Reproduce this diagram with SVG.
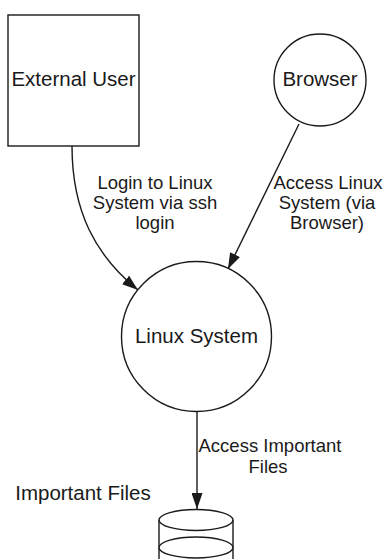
<svg xmlns="http://www.w3.org/2000/svg" width="384" height="559" viewBox="0 0 384 559">
<style>
.shape{fill:#fff;stroke:#1a1a1a;stroke-width:1.4}
.node{font-family:"Liberation Sans",Arial,sans-serif;font-size:20.5px;fill:#1a1a1a;text-anchor:middle}
.lbl{font-family:"Liberation Sans",Arial,sans-serif;font-size:18.5px;fill:#1a1a1a;text-anchor:middle}
.edge{fill:none;stroke:#1a1a1a;stroke-width:1.4}
</style>
<defs>
<marker id="arr" markerUnits="userSpaceOnUse" markerWidth="16" markerHeight="11" refX="16" refY="5.5" orient="auto">
<path d="M0,0 L16,5.5 L0,11 z" fill="#1a1a1a"/>
</marker>
</defs>
<rect width="384" height="559" fill="#fff"/>
<g id="connectors">
<path class="edge" d="M72,146 C72,212 96,256 138,290" marker-end="url(#arr)"/>
<path class="edge" d="M299,124 L228,269" marker-end="url(#arr)"/>
<path class="edge" d="M197,411 L197,509" marker-end="url(#arr)"/>
<text class="lbl" x="155" y="189">Login to Linux</text>
<text class="lbl" x="155" y="209">System via ssh</text>
<text class="lbl" x="155" y="229">login</text>
<text class="lbl" x="328" y="189">Access Linux</text>
<text class="lbl" x="327" y="209">System (via</text>
<text class="lbl" x="327" y="229">Browser)</text>
<text class="lbl" x="270" y="452">Access Important</text>
<text class="lbl" x="268" y="473">Files</text>
</g>
<g id="external-user">
<rect class="shape" x="8" y="15" width="131" height="131"/>
<text class="node" x="73.5" y="86">External User</text>
</g>
<g id="browser">
<circle class="shape" cx="320" cy="80" r="46"/>
<text class="node" x="320" y="86">Browser</text>
</g>
<g id="linux-system">
<circle class="shape" cx="196.5" cy="336.5" r="75"/>
<text class="node" x="196.5" y="343">Linux System</text>
</g>
<g id="important-files">
<path class="shape" d="M159,520 L159,565 L233,565 L233,520"/>
<ellipse class="shape" cx="196" cy="547.5" rx="37" ry="10.5"/>
<ellipse class="shape" cx="196" cy="520" rx="37" ry="10.5"/>
<text class="node" x="83" y="500">Important Files</text>
</g>
</svg>
